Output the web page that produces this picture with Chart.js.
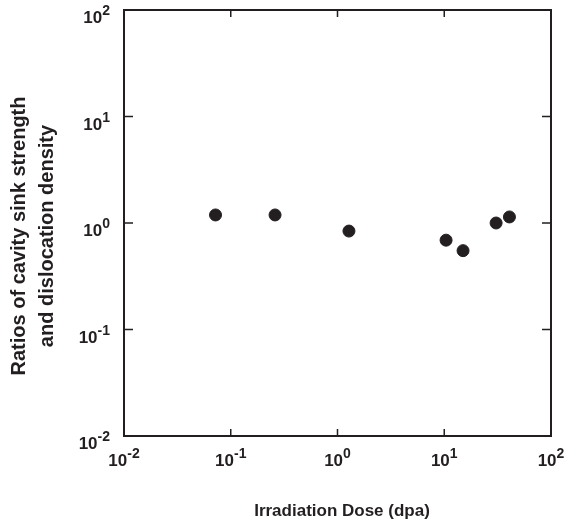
<!DOCTYPE html>
<html>
<head>
<meta charset="utf-8">
<script src="https://cdn.jsdelivr.net/npm/chart.js@4.4.0/dist/chart.umd.min.js"></script>
<style>
  html, body { margin: 0; padding: 0; background: #fff; }
  canvas { display: block; }
</style>
</head>
<body>
<canvas id="chart" width="580" height="522"></canvas>
<script>
// Data (log-log)
const doseValues = [0.072, 0.26, 1.28, 10.4, 15, 30.6, 40.8];
const ratioValues = [1.19, 1.19, 0.84, 0.69, 0.55, 1.0, 1.14];

// Decade ticks and their exponents
const xTickValues = [0.01, 0.1, 1, 10, 100];
const yTickValues = [0.01, 0.1, 1, 10, 100];
const tickExponents = ['-2', '-1', '0', '1', '2'];

const xTitle = 'Irradiation Dose (dpa)';
const yTitleLines = ['Ratios of cavity sink strength', 'and dislocation density'];

const ink = '#231f20';
const fontFamily = "'Liberation Sans', Arial, Helvetica, sans-serif";

// Draw "10" with a raised exponent, anchored by its right edge or centre
function drawPower(ctx, exp, x, y, align) {
  ctx.font = `bold 17px ${fontFamily}`;
  const baseW = ctx.measureText('10').width;
  ctx.font = `bold 14px ${fontFamily}`;
  const expW = ctx.measureText(exp).width;
  const total = baseW + expW;
  let left = align === 'right' ? x - total : x - total / 2;
  ctx.textAlign = 'left';
  ctx.textBaseline = 'alphabetic';
  ctx.font = `bold 17px ${fontFamily}`;
  ctx.fillText('10', left, y);
  ctx.font = `bold 14px ${fontFamily}`;
  ctx.fillText(exp, left + baseW, y - 8);
}

const framePlugin = {
  id: 'frame',
  afterDraw(chart) {
    const { ctx, chartArea: a, scales } = chart;
    const xs = scales.x, ys = scales.y;
    ctx.save();
    ctx.strokeStyle = ink;
    ctx.fillStyle = ink;
    ctx.lineWidth = 2;
    ctx.strokeRect(a.left, a.top, a.right - a.left, a.bottom - a.top);

    // inward ticks on all four sides
    const yLen = 9, xLen = 7;
    ctx.lineWidth = 1.5;
    ctx.beginPath();
    yTickValues.forEach(v => {
      const py = ys.getPixelForValue(v);
      ctx.moveTo(a.left, py); ctx.lineTo(a.left + yLen, py);
      ctx.moveTo(a.right, py); ctx.lineTo(a.right - yLen, py);
    });
    xTickValues.forEach(v => {
      const px = xs.getPixelForValue(v);
      ctx.moveTo(px, a.bottom); ctx.lineTo(px, a.bottom - xLen);
      ctx.moveTo(px, a.top); ctx.lineTo(px, a.top + xLen);
    });
    ctx.stroke();

    // tick labels
    yTickValues.forEach((v, i) => {
      drawPower(ctx, tickExponents[i], a.left - 14, ys.getPixelForValue(v) + 13, 'right');
    });
    xTickValues.forEach((v, i) => {
      drawPower(ctx, tickExponents[i], xs.getPixelForValue(v), a.bottom + 30, 'center');
    });

    // x title
    ctx.font = `bold 17px ${fontFamily}`;
    ctx.textAlign = 'center';
    ctx.textBaseline = 'middle';
    ctx.fillText(xTitle, 342, 511);

    // y title (rotated, two lines)
    ctx.translate(33, 236);
    ctx.rotate(-Math.PI / 2);
    ctx.font = `bold 20px ${fontFamily}`;
    ctx.fillText(yTitleLines[0], 0, -14);
    ctx.fillText(yTitleLines[1], 0, 14);
    ctx.restore();
  }
};

new Chart(document.getElementById('chart'), {
  type: 'scatter',
  data: {
    datasets: [{
      data: doseValues.map((d, i) => ({ x: d, y: ratioValues[i] })),
      backgroundColor: ink,
      borderColor: ink,
      pointRadius: 6,
      pointHoverRadius: 6
    }]
  },
  options: {
    responsive: false,
    animation: false,
    layout: { padding: { left: 116, right: 29, top: 10, bottom: 78 } },
    plugins: { legend: { display: false }, tooltip: { enabled: false } },
    scales: {
      x: {
        type: 'logarithmic', min: 0.01, max: 100,
        ticks: { display: false }, grid: { display: false }, border: { display: false }
      },
      y: {
        type: 'logarithmic', min: 0.01, max: 100,
        ticks: { display: false }, grid: { display: false }, border: { display: false }
      }
    }
  },
  plugins: [framePlugin]
});
</script>
</body>
</html>
